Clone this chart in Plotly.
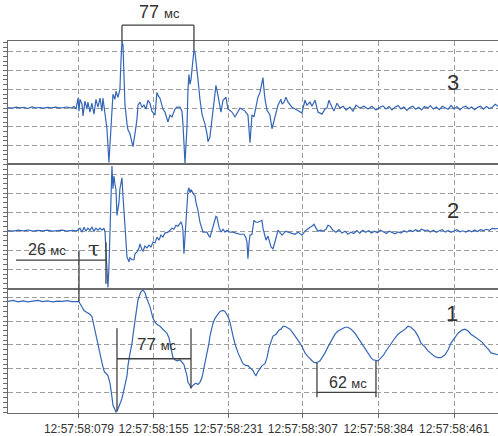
import plotly.graph_objects as go

# ---------------- data (time in ms after 12:57:58, amplitude in grid divisions) -------------
TICK_MS = [79, 155, 231, 307, 384, 461]
TICK_LABELS = ["12:57:58:079", "12:57:58:155", "12:57:58:231",
               "12:57:58:307", "12:57:58:384", "12:57:58:461"]

SIG3 = [
    (6.7, 0.03), (11, 0.0), (15, 0.05), (19, 0.02), (23, 0.04), (27, -0.02), (31, 0.06), (35, 0.02),
    (39, 0.03), (43, 0.0), (47, 0.04), (51, 0.02), (55, 0.05), (59, 0.01), (63, 0.03), (67, 0.06),
    (71, 0.0), (74, 0.08), (76, -0.05),
    (78, 0.53), (79, -0.16), (80, 0.47), (82.1, 0.21), (83.1, -0.42), (85.1, 0.37), (87.1, -0.05),
    (88.1, 0.32), (90.2, -0.21), (92.2, 0.26), (94.3, -0.32), (96.3, 0.47), (98.3, 0.05),
    (100.4, 0.53), (102.4, -0.16), (103.4, 0.53), (105.5, -0.37), (107.5, -1.1), (109.5, -2.9),
    (111.6, -1.1), (113.6, 0.74), (115.6, 0.47), (116.7, 0.9), (118.7, 0.58), (120.7, 1.0),
    (121.8, 2.58), (122.8, 3.55), (123.8, 3.37), (124.8, 2.05), (125.8, 0.21), (127.9, -0.84),
    (128.9, -1.16), (130.9, -1.37), (133.0, -1.95), (134.0, -2.05), (136.0, -1.37), (138.1, -0.58),
    (139.1, 0.16), (141.1, 0.32), (143.2, 0.05), (145.2, 0.16), (147.2, -0.05), (149.3, 0.42),
    (151.3, 0.26), (153.3, -0.16), (156.4, -0.37), (158.4, 0.84), (159.5, 0.68), (161.5, 0.53),
    (164.5, -0.05), (166.6, -0.21), (169.6, -0.74), (171.7, -0.37), (173.7, -0.47), (176.8, -0.05),
    (178.8, 0.05), (181.9, 0.05), (183.9, -0.16), (184.9, -0.84), (187.0, -2.95), (189.0, -1.0),
    (190.0, 1.0), (191.0, 1.79), (192.1, 1.26), (193.1, 1.53), (194.1, 2.05), (195.1, 2.58),
    (196.1, 3.1), (197.1, 3.0), (198.2, 2.32), (200.2, 1.53), (202.2, 0.47), (204.3, -0.32),
    (206.3, -0.68), (207.3, -0.84), (209.4, -1.37), (210.4, -1.79), (212.4, -1.53), (214.5, -0.58),
    (215.5, -0.1), (217.5, 1.0), (218.5, 1.21), (220.6, 0.68), (222.6, -0.05), (223.6, -0.21),
    (225.7, 0.42), (228.7, 0.58), (230.8, -0.05), (234.8, -0.21), (237.9, -0.47), (241.0, -0.16),
    (243.0, 0.0), (248.1, -0.16), (251.1, -0.37), (253.2, -1.84), (255.2, -0.37), (257.2, -0.47),
    (259.3, 0.05), (261.3, 0.58), (263.4, 0.84), (265.4, 1.26), (266.4, 1.63), (267.4, 1.0),
    (268.5, 0.47), (270.5, -0.1), (273.5, -0.37), (275.6, -1.1), (276.6, -0.9), (278.6, -0.47),
    (281.7, 0.16), (284.7, 0.47), (285.8, 0.21), (287.8, 0.32), (289.8, 0.58), (291.9, 0.32),
    (296.0, 0.05), (301.1, -0.1), (306.1, -0.26), (309.2, 0.42), (311.2, 0.16), (314.3, 0.32),
    (316.3, 0.1), (319.4, 0.42), (322.4, -0.21), (326.5, -0.32), (329.6, -0.05), (331.6, 0.0),
    (333.6, 0.42), (335.7, 0.16), (338.7, -0.16), (341.8, 0.26), (344.9, 0.0), (348.0, 0.1),
    (351.0, -0.1), (355.0, 0.05), (358.1, -0.16), (361.2, 0.16), (365.2, 0.0), (369.3, 0.1),
    (373.4, -0.05), (377.4, 0.1), (381.5, -0.1), (385.6, 0.05), (388.7, 0.12), (391.7, -0.05),
    (394.8, 0.08), (397.8, -0.1), (400.9, 0.05), (403.9, 0.14), (407, -0.04), (410, 0.06),
    (413, -0.12), (416, 0.03), (419, 0.1), (422, -0.06), (425, 0.04), (428, -0.1), (431, 0.08),
    (434, 0.0), (437, 0.12), (440, -0.05), (443, 0.06), (446, -0.08), (449, 0.1), (452, 0.02),
    (455, -0.06), (458, 0.14), (461, -0.04), (464, 0.08), (467, -0.1), (470, 0.05), (473, 0.1),
    (476, -0.03), (479, 0.06), (482, -0.08), (485, 0.04), (488, 0.1), (491, -0.06), (494, 0.08),
    (497, -0.02), (500, 0.05), (503, 0.2), (505.8, 0.1),
]

SIG2 = [
    (6.7, 0.03), (12, 0.0), (17, 0.05), (22, 0.02), (27, 0.06), (32, 0.0), (37, 0.04), (42, 0.02),
    (47, 0.05), (52, 0.0), (57, 0.03), (62, 0.05), (67, 0.0), (72, 0.04), (77, 0.02),
    (80, 0.16), (82.1, -0.05), (84.1, 0.21), (86.1, 0.0), (88.1, 0.16), (90.2, 0.05), (92.2, 0.21),
    (94.3, 0.0), (96.3, 0.16), (98.3, 0.05), (100.4, 0.16), (102.4, 0.05), (104.4, 0.16),
    (105.5, -0.05), (106.5, -0.88), (107.5, -2.02), (108.5, -2.95), (109.5, -1.92), (110.6, 0.05),
    (111.6, 1.97), (112.6, 3.42), (113.6, 2.23), (114.6, 2.9), (115.6, 2.49), (116.7, 2.18),
    (117.7, 0.83), (118.7, 1.19), (119.7, 1.5), (120.7, 2.23), (121.8, 2.54), (122.8, 2.8),
    (123.8, 1.87), (124.8, 0.93), (125.8, 0.05), (126.9, -0.88), (127.9, -1.35), (129.9, -1.61),
    (130.9, -1.4), (133.0, -1.5), (135.0, -1.5), (136.0, -1.19), (138.1, -1.09), (140.1, -0.88),
    (141.1, -0.67), (143.2, -0.98), (144.2, -1.04), (146.2, -0.78), (148.2, -0.88), (150.3, -0.73),
    (152.3, -0.83), (154.4, -0.57), (156.4, -0.62), (158.4, -0.31), (160.5, -0.47), (162.5, -0.21),
    (164.5, -0.31), (166.6, -0.1), (169.6, -0.05), (171.7, 0.05), (173.7, 0.16), (175.7, 0.1),
    (177.8, 0.31), (179.8, 0.26), (182.9, 0.47), (183.9, 0.36), (184.9, 0.05), (185.9, -1.19),
    (187.0, -0.36), (188.0, 0.57), (189.0, 1.45), (190.0, 2.12), (191.0, 2.28), (192.1, 2.02),
    (193.1, 2.18), (194.1, 2.07), (196.1, 1.92), (197.1, 1.87), (198.2, 1.5), (200.2, 1.09),
    (202.2, 0.47), (205.3, -0.05), (207.3, -0.05), (209.4, -0.05), (211.4, -0.26), (212.4, -0.31),
    (214.5, 0.05), (216.5, 0.47), (218.5, 0.78), (219.6, 0.73), (221.6, 0.21), (223.6, -0.05),
    (225.7, 0.1), (227.7, -0.05), (229.7, 0.05), (232.8, -0.05), (235.9, -0.05), (238.9, -0.1),
    (243.0, -0.16), (247.1, -0.16), (249.1, -0.36), (250.1, -0.57), (251.1, -1.45), (252.2, -0.62),
    (253.2, -0.21), (255.2, -0.16), (256.2, 0.36), (257.2, 0.57), (259.3, 0.47), (261.3, 0.47),
    (263.4, 0.52), (265.4, 0.57), (266.4, 0.16), (268.5, -0.31), (269.5, -0.47), (271.5, -0.26),
    (273.5, -0.67), (274.6, -0.83), (276.6, -0.93), (278.6, -0.62), (279.7, -0.36), (281.7, 0.05),
    (283.7, -0.05), (285.8, -0.21), (287.8, -0.1), (289.8, 0.0), (291.9, -0.05), (294.9, -0.1),
    (299.0, -0.16), (302.1, -0.05), (306.1, -0.21), (309.2, 0.0), (311.2, 0.1), (314.3, 0.21),
    (316.3, 0.26), (318.4, 0.36), (320.4, 0.16), (322.4, 0.0), (325.5, 0.05), (327.5, 0.0),
    (330.6, 0.1), (332.6, 0.31), (334.7, 0.26), (337.7, 0.05), (340.8, -0.05), (343.8, 0.08),
    (346.9, -0.1), (350, 0.0), (353, -0.16), (356, -0.05), (359, -0.12), (362, 0.03), (365, -0.1),
    (368, 0.05), (371, -0.06), (374, 0.02), (377, -0.1), (380, 0.0), (383, -0.08), (386, 0.05),
    (389, -0.03), (392, -0.12), (395, 0.0), (398, -0.06), (401, -0.14), (404, -0.04), (407, -0.1),
    (410, 0.02), (413, -0.05), (416, 0.05), (419, -0.02), (422, 0.08), (425, 0.0), (428, 0.1),
    (431, 0.03), (434, 0.06), (437, -0.04), (440, 0.05), (443, -0.06), (446, 0.02), (449, 0.08),
    (452, -0.05), (455, 0.04), (458, -0.06), (461, 0.02), (464, 0.08), (467, -0.03), (470, 0.02),
    (473, -0.05), (476, 0.04), (479, -0.03), (482, 0.06), (485, -0.02), (488, 0.08), (491, 0.03),
    (494, 0.1), (497, 0.05), (500, 0.15), (503, 0.12), (505.8, 0.14),
]

SIG1 = [
    (6.7, 1.82), (12, 1.86), (17, 1.8), (22, 1.84), (27, 1.8), (32, 1.83), (37, 1.86), (42, 1.81),
    (47, 1.84), (52, 1.8), (57, 1.83), (62, 1.82), (67, 1.85), (72, 1.81), (77, 1.83),
    (79, 1.81), (80, 1.73), (82.1, 1.56), (84.1, 1.44), (87.1, 1.36), (90.2, 1.28), (92.2, 1.19),
    (93.2, 0.99), (95.3, 0.66), (97.3, 0.29), (98.3, -0.04), (100.4, -0.37), (102.4, -0.74),
    (104.4, -1.07), (105.5, -1.15), (107.5, -1.23), (108.5, -1.28), (110.6, -1.6), (111.6, -1.81),
    (112.6, -2.18), (113.6, -2.51), (115.6, -2.72), (116.7, -2.8), (117.7, -2.76), (119.7, -2.59),
    (121.8, -2.35), (122.8, -2.22), (124.8, -1.93), (125.8, -1.69), (127.9, -1.28), (128.9, -0.86),
    (130.9, -0.37), (133.0, 0.08), (135.0, 0.7), (136.0, 1.07), (138.1, 1.6), (139.1, 1.89),
    (141.1, 2.14), (142.1, 2.22), (144.2, 2.3), (146.2, 2.18), (148.2, 1.93), (149.3, 1.81),
    (151.3, 1.6), (153.3, 1.28), (154.4, 1.11), (156.4, 0.95), (158.4, 0.86), (161.5, 0.78),
    (163.5, 0.7), (166.6, 0.58), (168.6, 0.49), (170.7, 0.29), (171.7, 0.08), (173.7, -0.25),
    (174.7, -0.53), (176.8, -0.62), (178.8, -0.66), (181.9, -0.62), (183.9, -0.7), (185.9, -0.82),
    (187.0, -0.99), (189.0, -1.28), (190.0, -1.56), (192.1, -1.69), (193.1, -1.81), (194.1, -1.73),
    (196.1, -1.65), (198.2, -1.6), (200.2, -1.65), (202.2, -1.56), (204.3, -1.36), (205.3, -1.15),
    (207.3, -0.86), (209.4, -0.45), (211.4, 0.08), (212.4, 0.37), (214.5, 0.74), (215.5, 0.91),
    (217.5, 1.11), (220.6, 1.32), (222.6, 1.4), (225.7, 1.44), (227.7, 1.4), (230.8, 1.19),
    (232.8, 0.95), (235.9, 0.37), (237.9, 0.04), (241.0, -0.33), (243.0, -0.53), (246.0, -0.78),
    (249.1, -0.86), (251.1, -0.86), (253.2, -0.95), (256.2, -1.07), (258.3, -1.23), (259.3, -1.28),
    (261.3, -1.11), (263.4, -0.95), (265.4, -0.86), (268.5, -0.78), (270.5, -0.53), (272.5, -0.12),
    (274.6, 0.16), (276.6, 0.37), (279.7, 0.45), (282.7, 0.62), (284.7, 0.66), (286.8, 0.78),
    (288.8, 0.78), (290.9, 0.74), (293.9, 0.66), (297.0, 0.49), (299.0, 0.37), (302.1, 0.21),
    (304.1, 0.08), (307.2, -0.16), (309.2, -0.33), (312.3, -0.49), (314.3, -0.58), (317.4, -0.7),
    (319.4, -0.74), (321.4, -0.74), (324.5, -0.66), (327.5, -0.49), (329.6, -0.33), (332.6, -0.08),
    (334.7, 0.08), (337.7, 0.33), (339.8, 0.45), (342.8, 0.58), (345.9, 0.66), (350.0, 0.74),
    (353.0, 0.74), (356.1, 0.66), (360.1, 0.49), (363.2, 0.29), (366.3, 0.08), (369.3, -0.12),
    (373.4, -0.37), (376.4, -0.53), (378.5, -0.62), (381.5, -0.66), (383.6, -0.66), (385.6, -0.58),
    (388.7, -0.45), (391.7, -0.25), (393.8, -0.12), (396.8, 0.08), (400.9, 0.29), (403.9, 0.45),
    (407.0, 0.53), (411.1, 0.66), (414.1, 0.78), (417.2, 0.74), (421.3, 0.58), (424.3, 0.37),
    (427.4, 0.08), (431.4, -0.08), (434.5, -0.25), (438.6, -0.41), (441.6, -0.49), (444.7, -0.53),
    (447.7, -0.53), (451.8, -0.41), (454.9, -0.21), (457.9, 0.08), (462.0, 0.33), (465.1, 0.49),
    (469.1, 0.62), (472.2, 0.66), (475.3, 0.58), (478.3, 0.45), (482.4, 0.33), (485.4, 0.25),
    (489.5, 0.12), (492.6, -0.04), (495.6, -0.16), (498.7, -0.33), (501.7, -0.37), (503.8, -0.37),
    (505.8, -0.41),
]

# ---------------- layout constants -------------
W, H = 498, 436
ML, MR, MT, MB = 8, 0, 41, 18
X_RANGE = [6.7, 505.8]
Y3_RANGE = [-3.0, 3.58]
Y2_RANGE = [-3.02, 3.51]
Y1_RANGE = [-2.84, 2.35]
D1 = [0.0, 0.3342]
D2 = [0.3342, 0.6684]
D3 = [0.6684, 1.0]

SIG_COLOR = "#3466b6"
GRID_COLOR = "#9c9c9c"
FRAME_COLOR = "#6a6a6a"
INK = "#333333"
FONT = "Liberation Sans, Arial, sans-serif"


def pp(py):
    """pixel row -> paper y"""
    return (H - MB - py) / (H - MT - MB)


fig = go.Figure()
for sig, ya in ((SIG1, "y"), (SIG2, "y2"), (SIG3, "y3")):
    t = [p[0] for p in sig]
    v = [p[1] for p in sig]
    xa = "x" if ya == "y" else "x" + ya[1:]
    fig.add_trace(go.Scatter(x=t, y=v, mode="lines", xaxis=xa, yaxis=ya,
                             line=dict(color=SIG_COLOR, width=1.2), hoverinfo="skip",
                             showlegend=False))

xcommon = dict(range=X_RANGE, tickmode="array", tickvals=TICK_MS, showgrid=True,
               gridcolor=GRID_COLOR, griddash="5px,3px", gridwidth=1, zeroline=False,
               showline=True, linecolor=FRAME_COLOR, linewidth=1.4, mirror=True)
ycommon = dict(showticklabels=False, showgrid=True, gridcolor=GRID_COLOR,
               griddash="5px,3px", gridwidth=1, zeroline=False, showline=True,
               linecolor=FRAME_COLOR, linewidth=1.4, ticks="outside", ticklen=4,
               tickcolor=FRAME_COLOR, tickwidth=1, tickmode="linear", tick0=0, dtick=1)

fig.update_layout(
    width=W, height=H, margin=dict(l=ML, r=MR, t=MT, b=MB),
    paper_bgcolor="white", plot_bgcolor="white",
    font=dict(family=FONT, color=INK, size=12),
    xaxis=dict(**xcommon, anchor="y", ticktext=TICK_LABELS, ticks="outside", ticklen=4,
               tickcolor=FRAME_COLOR, tickfont=dict(size=12, color=INK, family=FONT)),
    xaxis2=dict(**xcommon, anchor="y2", matches="x", showticklabels=False, ticks=""),
    xaxis3=dict(**xcommon, anchor="y3", matches="x", showticklabels=False, ticks=""),
    yaxis=dict(**ycommon, domain=D1, range=Y1_RANGE, anchor="x",
               minor=dict(ticks="outside", ticklen=4, dtick=0.2, tick0=0, tickcolor=FRAME_COLOR)),
    yaxis2=dict(**ycommon, domain=D2, range=Y2_RANGE, anchor="x2",
                minor=dict(ticks="outside", ticklen=4, dtick=0.25, tick0=0, tickcolor=FRAME_COLOR)),
    yaxis3=dict(**ycommon, domain=D3, range=Y3_RANGE, anchor="x3",
                minor=dict(ticks="outside", ticklen=4, dtick=0.25, tick0=0, tickcolor=FRAME_COLOR)),
)

# ---------------- measurement brackets -------------
LINE = dict(color="#404040", width=1.3)


def seg(x0, y0, x1, y1):
    fig.add_shape(type="line", xref="x", yref="paper", x0=x0, x1=x1, y0=y0, y1=y1,
                  line=LINE, layer="above")


# 77 ms between peaks of trace 3
seg(122.8, pp(25), 122.8, pp(42))
seg(196.1, pp(25), 196.1, pp(50))
seg(122.8, pp(25), 196.1, pp(25))
# 77 ms between troughs of trace 1
seg(117.7, pp(332), 117.7, pp(416))
seg(193.1, pp(332), 193.1, pp(393))
seg(117.7, pp(363), 193.1, pp(363))
# 62 ms period of trace 1
seg(321.4, pp(367), 321.4, pp(402))
seg(381.5, pp(365), 381.5, pp(402))
seg(321.4, pp(397), 381.5, pp(397))
# 26 ms delay tau
seg(14.8, pp(263), 106.5, pp(263))
seg(79.0, pp(253), 79.0, pp(305))
seg(106.5, pp(245), 106.5, pp(287))


def label(x, py, text, size, family=FONT):
    fig.add_annotation(x=x, y=pp(py), xref="x", yref="paper", text=text, showarrow=False,
                       xanchor="center", yanchor="middle",
                       font=dict(size=size, color=INK, family=family))


ms = "<span style='font-size:13px'>мс</span>"
label(161.0, 12, "77 " + ms, 18)
label(158.0, 349, "77 " + ms, 17)
label(353.0, 387, "62 " + ms, 16)
label(46.0, 252, "26 " + ms, 16)
label(94.3, 252, "τ", 21, "DejaVu Serif, serif")
label(460.0, 83, "3", 22)
label(460.0, 213, "2", 22)
label(459.0, 317, "1", 22)

fig.write_html("out.html", config={"displayModeBar": False},
               post_script="document.body.style.margin='0';document.body.style.overflow='hidden';")
